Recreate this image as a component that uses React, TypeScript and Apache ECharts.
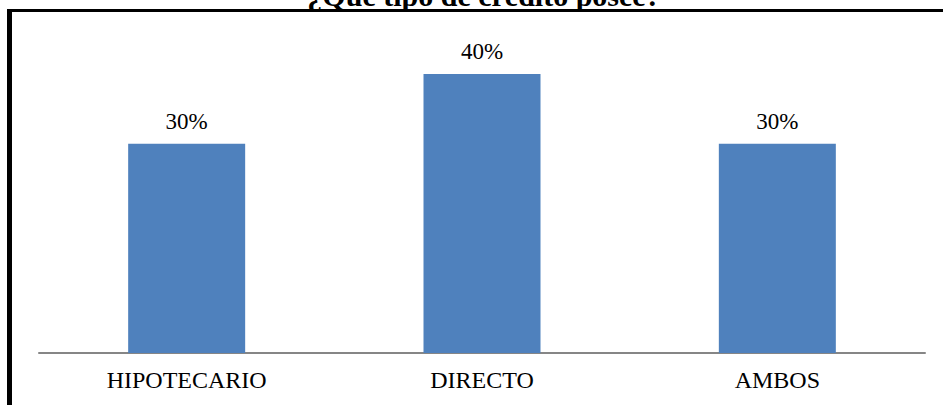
import React, { useEffect, useRef } from "react";
import * as echarts from "echarts";

const titleText = "¿Qué tipo de crédito posee?";
const categories = ["HIPOTECARIO", "DIRECTO", "AMBOS"];
const values = [0.3, 0.4, 0.3];

const SERIF = "Liberation Serif";

export default function App() {
  const ref = useRef<HTMLDivElement>(null);
  useEffect(() => {
    document.body.style.margin = "0";
    const chart = echarts.init(ref.current!, null, { renderer: "svg" });
    chart.setOption({
      animation: false,
      backgroundColor: "#ffffff",
      grid: { left: 39, right: 18, top: 39, bottom: 52 },
      xAxis: {
        type: "category",
        data: categories,
        axisLine: { lineStyle: { color: "#868686", width: 2 } },
        axisTick: { show: false },
        axisLabel: {
          color: "#000000",
          fontFamily: SERIF,
          fontSize: 24,
          margin: 15,
        },
      },
      yAxis: { type: "value", min: 0, max: 0.45, show: false, splitLine: { show: false } },
      series: [
        {
          type: "bar",
          data: values,
          barWidth: 117,
          itemStyle: { color: "#4F81BD" },
          label: {
            show: true,
            position: "top",
            distance: 11,
            color: "#000000",
            fontFamily: SERIF,
            fontSize: 23,
            formatter: (p: any) => Math.round(p.value * 100) + "%",
          },
        },
      ],
      graphic: [
        { type: "rect", shape: { x: 7, y: 9, width: 5, height: 400 }, style: { fill: "#000" }, z: 10 },
        { type: "rect", shape: { x: 7, y: 9, width: 940, height: 3 }, style: { fill: "#000" }, z: 10 },
        {
          type: "text",
          x: 484,
          y: 10,
          style: {
            text: titleText,
            fill: "#000",
            font: "bold 30px 'Liberation Serif', 'Times New Roman', serif",
            align: "center",
            verticalAlign: "bottom",
          },
          z: 5,
        },
      ],
    });
    return () => chart.dispose();
  }, []);
  return <div ref={ref} style={{ position: "fixed", left: 0, top: 0, width: 943, height: 405 }} />;
}
